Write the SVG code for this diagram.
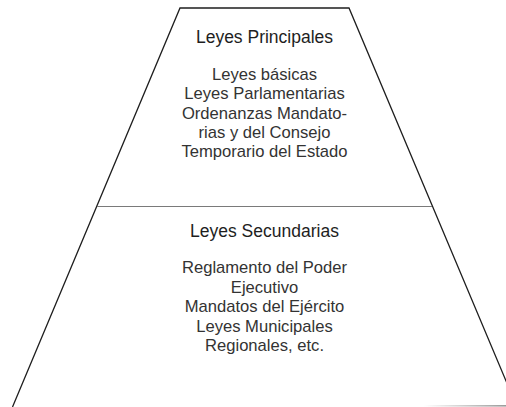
<svg xmlns="http://www.w3.org/2000/svg" width="506" height="407" viewBox="0 0 506 407">
<style>
.edge{stroke:#1e1e1e;stroke-width:1.3;fill:none}
.div{stroke:#7a7a7a;stroke-width:1.2}
.title{font-family:"Liberation Sans",Arial,sans-serif;font-size:17.5px;fill:#1e1e1e;text-anchor:middle}
.body{font-family:"Liberation Sans",Arial,sans-serif;font-size:16.6px;fill:#333333;text-anchor:middle}
</style>
<defs>
<linearGradient id="fade" x1="0" y1="0" x2="1" y2="0">
<stop offset="0" stop-color="#ffffff"/>
<stop offset="1" stop-color="#9a9a9a"/>
</linearGradient>
</defs>
<rect width="506" height="407" fill="#ffffff"/>
<g id="connectors">
<polyline class="edge" points="12.5,407 180,8 349,8 517,407"/>
<line class="div" x1="97" y1="206.5" x2="432" y2="206.5"/>
<rect x="424" y="405" width="82" height="1.6" fill="url(#fade)"/>
</g>
<g id="principales">
<text class="title" x="264.5" y="42.5">Leyes Principales</text>
<text class="body" x="264.5" y="80">Leyes básicas</text>
<text class="body" x="264.5" y="99.3">Leyes Parlamentarias</text>
<text class="body" x="264.5" y="118.6">Ordenanzas Mandato-</text>
<text class="body" x="264.5" y="137.9">rias y del Consejo</text>
<text class="body" x="264.5" y="157.2">Temporario del Estado</text>
</g>
<g id="secundarias">
<text class="title" x="264.5" y="236.5">Leyes Secundarias</text>
<text class="body" x="264.5" y="273">Reglamento del Poder</text>
<text class="body" x="264.5" y="292.5">Ejecutivo</text>
<text class="body" x="264.5" y="312">Mandatos del Ejército</text>
<text class="body" x="264.5" y="331.5">Leyes Municipales</text>
<text class="body" x="264.5" y="351">Regionales, etc.</text>
</g>
</svg>
